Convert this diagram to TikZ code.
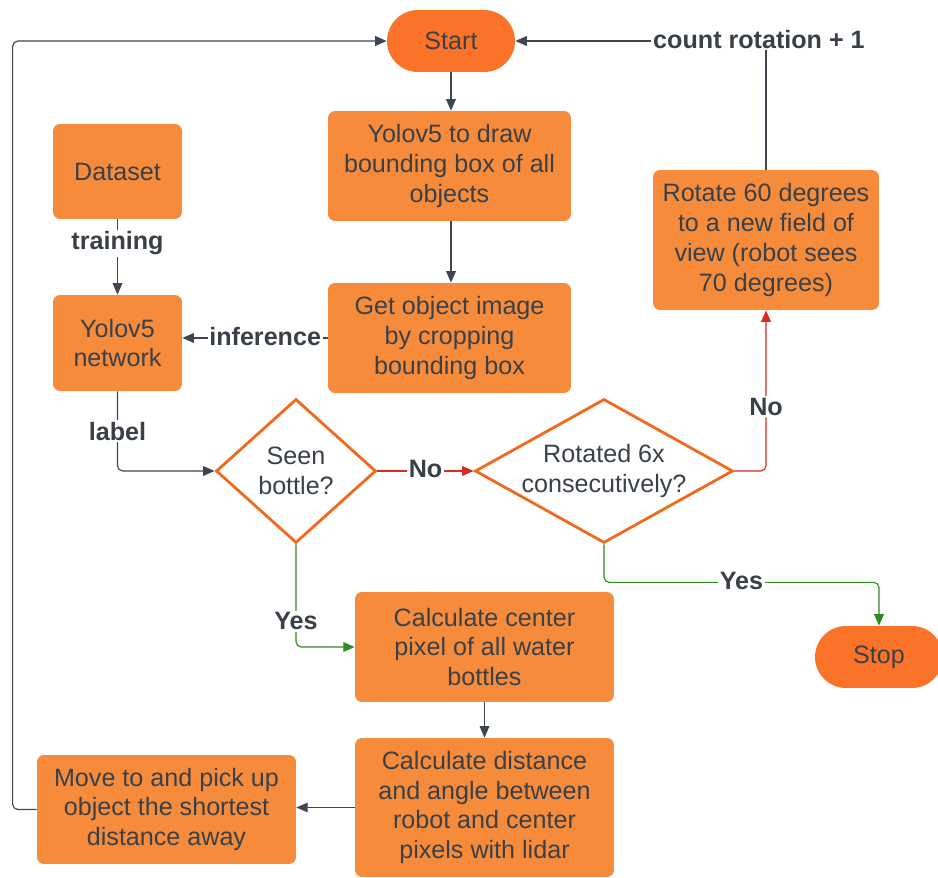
\documentclass[tikz,border=0pt]{standalone}
\usepackage{fontspec}
\setmainfont{Liberation Sans}
\usetikzlibrary{arrows.meta, shapes.geometric, calc}

\definecolor{boxorange}{HTML}{F68B3C}
\definecolor{pillorange}{HTML}{FA7328}
\definecolor{edgeorange}{HTML}{F06A1E}
\definecolor{txtgray}{HTML}{3A4047}
\definecolor{linegray}{HTML}{3E4751}
\definecolor{noRed}{HTML}{D92A1F}
\definecolor{yesGreen}{HTML}{2C8C1F}

\begin{document}
\begin{tikzpicture}[x=0.02cm, y=-0.02cm,
    every node/.style={font=\fontsize{14.3}{17}\selectfont, text=txtgray, align=center},
    procbox/.style={rectangle, fill=boxorange, rounded corners=4pt, inner sep=0pt},
    termbox/.style={rectangle, fill=pillorange, rounded corners=0.62cm, inner sep=0pt,
        minimum width=2.56cm, minimum height=1.24cm},
    decision/.style={diamond, draw=edgeorange, line width=1.6pt, fill=white, inner sep=-6pt},
    flow/.style={draw=linegray, line width=0.65pt, -{Triangle[length=6.5pt,width=5.5pt]}},
    noflow/.style={flow, draw=noRed, -{Triangle[length=6.5pt,width=5.5pt,fill=noRed]}},
    yesflow/.style={flow, draw=yesGreen, -{Triangle[length=6.5pt,width=5.5pt,fill=yesGreen]}},
    tag/.style={font=\fontsize{14.3}{17}\selectfont\bfseries, fill=white, inner sep=1pt}]
    \useasboundingbox (0,0) rectangle (938,878);

    % boxes
    \node[termbox] (start) at (451,41) {Start};
    \node[procbox, minimum width=4.86cm, minimum height=2.2cm] (yolodraw) at (449.5,166)
        {Yolov5 to draw\\bounding box of all\\objects};
    \node[procbox, minimum width=2.58cm, minimum height=1.9cm] (dataset) at (117.5,171.5) {Dataset};
    \node[procbox, minimum width=2.58cm, minimum height=1.92cm] (yolonet) at (117.5,343)
        {Yolov5\\network};
    \node[procbox, minimum width=4.86cm, minimum height=2.2cm] (getobj) at (449.5,338)
        {Get object image\\by cropping\\bounding box};
    \node[procbox, minimum width=4.52cm, minimum height=2.8cm] (rotview) at (766,240)
        {Rotate 60 degrees\\to a new field of\\view (robot sees\\70 degrees)};
    \node[decision, aspect=1.11, minimum width=3.2cm, minimum height=2.88cm] (seen) at (296,471)
        {Seen\\bottle?};
    \node[decision, aspect=1.8, minimum width=5.16cm, minimum height=2.88cm] (rotcheck) at (604,471)
        {Rotated 6x\\consecutively?};
    \node[procbox, minimum width=5.18cm, minimum height=2.2cm] (calccenter) at (484.5,647)
        {Calculate center\\pixel of all water\\bottles};
    \node[termbox] (stop) at (879,657) {Stop};
    \node[procbox, minimum width=5.18cm, minimum height=2.78cm] (calcdist) at (484.5,807.5)
        {Calculate distance\\and angle between\\robot and center\\pixels with lidar};
    \node[procbox, minimum width=5.18cm, minimum height=2.18cm] (moveto) at (166.5,809.5)
        {Move to and pick up\\object the shortest\\distance away};

    % connectors
    \draw[flow] (start.south) -- (start.south |- yolodraw.north);
    \draw[flow] (start.south |- yolodraw.south) -- (start.south |- getobj.north);
    \draw[flow] (getobj.west) -- (getobj.west -| yolonet.east) node[tag, pos=0.43, yshift=1pt] {inference};
    \draw[flow] (dataset) -- (yolonet) node[tag, pos=0.32] {training};
    \draw[flow, rounded corners=3pt] (yolonet.south) |- (seen.west) node[tag, pos=0.25] {label};
    \draw[noflow] (seen.east) -- (rotcheck.west) node[tag, midway, yshift=1pt] {No};
    \draw[noflow, rounded corners=3pt] (rotcheck.east) -| (rotview.south) node[tag, pos=0.7] {No};
    \draw[flow] (rotview.north) |- (start.east) node[tag, pos=0.5, xshift=-4pt, yshift=1pt] {count rotation + 1};
    \draw[yesflow, rounded corners=3pt] (seen.south) |- (calccenter.west) node[tag, pos=0.375] {Yes};
    \draw[yesflow, rounded corners=3pt] (rotcheck.south) -- ++(0,38) -| (stop.north) node[tag, pos=0.25, yshift=1pt] {Yes};
    \draw[flow] (calccenter) -- (calccenter |- calcdist.north);
    \draw[flow] (calcdist.west) -- (calcdist.west -| moveto.east);
    \draw[flow, rounded corners=3pt] (moveto.west) -- ++(-24,0) |- (start.west);
\end{tikzpicture}
\end{document}
